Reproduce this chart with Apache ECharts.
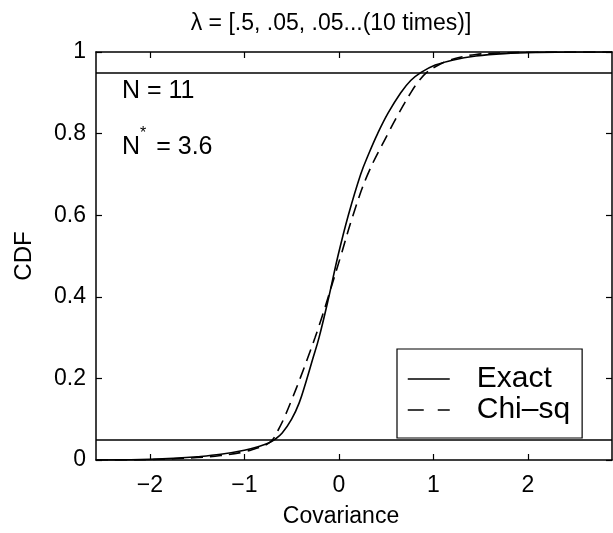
<!DOCTYPE html>
<html>
<head>
<meta charset="utf-8">
<script src="https://cdn.jsdelivr.net/npm/echarts@6/dist/echarts.min.js"></script>
<style>
html,body{margin:0;padding:0;background:#fff;}
#chart{width:613px;height:533px;}
</style>
</head>
<body>
<div id="chart"></div>
<script>
var titleText = 'λ = [.5, .05, .05...(10 times)]';
var xName = 'Covariance';
var yName = 'CDF';
var seriesNames = ['Exact', 'Chi–sq'];
var xTicks = [-2, -1, 0, 1, 2];
var refLevels = [0.05, 0.95];
var exactX = [-2.57, -2.2, -2.0, -1.75, -1.5, -1.25, -1.0, -0.85, -0.75, -0.68, -0.6, -0.5, -0.42, -0.35, -0.28, -0.21, -0.106, -0.01, 0.10, 0.23, 0.315, 0.41, 0.52, 0.655, 0.76, 0.87, 1.02, 1.2, 1.45, 1.75, 2.1, 2.5, 2.89];
var exactCdf = [0, 0.0005, 0.0015, 0.004, 0.008, 0.014, 0.024, 0.033, 0.041, 0.05, 0.066, 0.10, 0.14, 0.19, 0.245, 0.30, 0.40, 0.50, 0.60, 0.70, 0.75, 0.80, 0.85, 0.90, 0.93, 0.95, 0.968, 0.98, 0.99, 0.996, 0.999, 1.0, 1.0];
var chisqX = [-2.57, -2.2, -2.0, -1.75, -1.5, -1.25, -1.0, -0.88, -0.78, -0.74, -0.70, -0.65, -0.585, -0.495, -0.41, -0.33, -0.252, -0.18, -0.112, 0.02, 0.15, 0.305, 0.52, 0.635, 0.76, 0.85, 0.93, 1.03, 1.15, 1.26, 1.45, 1.75, 2.1, 2.5, 2.89];
var chisqCdf = [0, 0.0003, 0.001, 0.003, 0.006, 0.011, 0.02, 0.028, 0.036, 0.042, 0.05, 0.07, 0.10, 0.15, 0.20, 0.25, 0.30, 0.35, 0.40, 0.50, 0.60, 0.70, 0.80, 0.85, 0.90, 0.93, 0.95, 0.965, 0.978, 0.986, 0.994, 0.998, 0.9995, 1.0, 1.0];
var annot1 = 'N = 11';
var annot2Base = 'N';
var annot2Sup = '*';
var annot2Rest = ' = 3.6';

function pairs(xv, yv) { return xv.map(function (x, i) { return [x, yv[i]]; }); }

var FONT = '"Liberation Sans", Arial, Helvetica, sans-serif';
var chart = echarts.init(document.getElementById('chart'), null, {renderer: 'canvas'});
var X_MIN = -2.57, X_MAX = 2.89;
var tickStyle = {show: true, inside: true, length: 6, lineStyle: {color: '#000', width: 1.2}};
chart.setOption({
  animation: false,
  backgroundColor: '#fff',
  title: {
    text: titleText, left: 326, top: 7, textAlign: 'center',
    textStyle: {fontFamily: FONT, fontSize: 23, fontWeight: 'normal', color: '#000'}
  },
  grid: {left: 96, right: 1, top: 52, bottom: 73, containLabel: false, outerBoundsMode: 'none'},
  legend: {
    orient: 'vertical', left: 397, top: 349,
    backgroundColor: '#fff', borderColor: '#000', borderWidth: 1.2, borderRadius: 0,
    padding: [15, 12, 13, 10], itemGap: 1, itemWidth: 42, itemHeight: 14,
    formatter: '{a|{name}}',
    itemStyle: {opacity: 0},
    lineStyle: {width: 1.5, color: '#000'},
    textStyle: {color: '#000', fontFamily: FONT, fontSize: 30,
      rich: {a: {fontFamily: FONT, fontSize: 30, color: '#000', padding: [0, 0, 0, 22], lineHeight: 32}}},
    data: [
      {name: seriesNames[0], lineStyle: {type: 'solid', width: 1.5, color: '#000'}},
      {name: seriesNames[1], lineStyle: {type: [16, 14], width: 1.5, color: '#000'}}
    ]
  },
  xAxis: [
    {
      type: 'value', min: X_MIN, max: X_MAX, position: 'bottom',
      name: xName, nameLocation: 'middle', nameGap: 45,
      nameTextStyle: {fontFamily: FONT, fontSize: 23, color: '#000', padding: [0, 26, 0, 0]},
      axisLine: {show: true, onZero: false, lineStyle: {color: '#000', width: 1.5}},
      axisTick: Object.assign({customValues: xTicks}, tickStyle),
      axisLabel: {show: true, customValues: xTicks, margin: 14, fontFamily: FONT, fontSize: 23, color: '#000',
        formatter: function (v) { return v < 0 ? '−' + Math.abs(v) : String(v); }},
      splitLine: {show: false}
    },
    {
      type: 'value', min: X_MIN, max: X_MAX, position: 'top',
      axisLine: {show: true, onZero: false, lineStyle: {color: '#000', width: 1.5}},
      axisTick: Object.assign({customValues: xTicks}, tickStyle),
      axisLabel: {show: false},
      splitLine: {show: false}
    }
  ],
  yAxis: [
    {
      type: 'value', min: 0, max: 1, interval: 0.2, position: 'left',
      name: yName, nameLocation: 'middle', nameGap: 60, nameRotate: 90,
      nameTextStyle: {fontFamily: FONT, fontSize: 24, color: '#000'},
      axisLine: {show: true, onZero: false, lineStyle: {color: '#000', width: 1.5}},
      axisTick: tickStyle,
      axisLabel: {show: true, margin: 10, fontFamily: FONT, fontSize: 23, color: '#000'},
      splitLine: {show: false}
    },
    {
      type: 'value', min: 0, max: 1, interval: 0.2, position: 'right',
      axisLine: {show: true, onZero: false, lineStyle: {color: '#000', width: 1.5}},
      axisTick: tickStyle,
      axisLabel: {show: false},
      splitLine: {show: false}
    }
  ],
  series: [
    {
      name: seriesNames[0], type: 'line', data: pairs(exactX, exactCdf),
      symbol: 'none', smooth: 0.4,
      lineStyle: {color: '#000', width: 1.6, type: 'solid'},
      itemStyle: {color: '#000'},
      markLine: {
        silent: true, symbol: ['none', 'none'], label: {show: false},
        lineStyle: {color: '#000', width: 1.5, type: 'solid'},
        data: refLevels.map(function (v) { return {yAxis: v}; })
      },
      z: 3
    },
    {
      name: seriesNames[1], type: 'line', data: pairs(chisqX, chisqCdf),
      symbol: 'none', smooth: 0.4,
      lineStyle: {color: '#000', width: 1.6, type: [12, 7]},
      itemStyle: {color: '#000'},
      z: 3
    }
  ],
  graphic: [
    {type: 'text', left: 122, top: 79, z: 10,
      style: {text: annot1, fontFamily: FONT, fontSize: 25, fill: '#000'}},
    {type: 'text', left: 122, top: 126, z: 10,
      style: {text: '{b|' + annot2Base + '}{s|' + annot2Sup + '}{b|' + annot2Rest + '}', fill: '#000',
        rich: {b: {fontFamily: FONT, fontSize: 25, fill: '#000', verticalAlign: 'bottom', lineHeight: 34},
               s: {fontFamily: FONT, fontSize: 16, fill: '#000', verticalAlign: 'top', lineHeight: 34, padding: [0, 3, 0, 0]}}}}
  ]
});
</script>
</body>
</html>
